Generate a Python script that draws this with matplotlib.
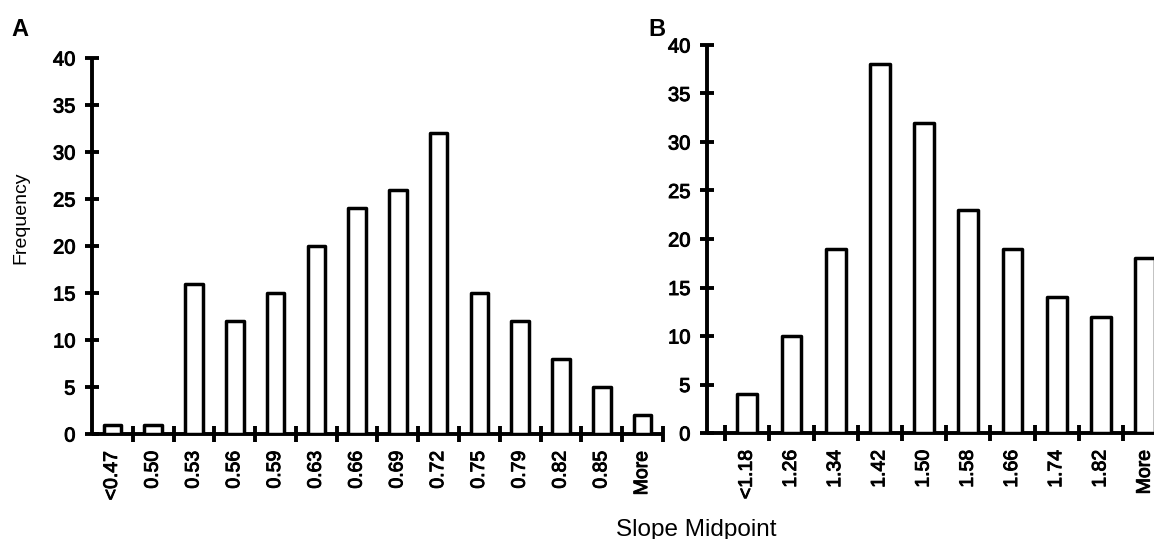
import matplotlib
matplotlib.use("Agg")
import matplotlib.pyplot as plt
import matplotlib.patheffects as pe
import numpy as np
from matplotlib.ticker import FixedLocator, MultipleLocator

plt.rcParams["font.family"] = ["Liberation Sans", "DejaVu Sans"]

# =========================
# Histogram data
# =========================

bins_a = ["<0.47", "0.50", "0.53", "0.56", "0.59", "0.63", "0.66",
          "0.69", "0.72", "0.75", "0.79", "0.82", "0.85", "More"]
freq_a = [1, 1, 16, 12, 15, 20, 24, 26, 32, 15, 12, 8, 5, 2]

bins_b = ["<1.18", "1.26", "1.34", "1.42", "1.50", "1.58", "1.66",
          "1.74", "1.82", "More"]
freq_b = [4, 10, 19, 38, 32, 23, 19, 14, 12, 18]

W, H = 1154, 539

# slightly heavier glyphs for the tick numbers
heavy = [pe.withStroke(linewidth=0.7, foreground="black")]


def px_axes(fig, left, right, top, bottom):
    """axes placed by pixel edges"""
    return fig.add_axes([left / W, 1 - bottom / H,
                         (right - left) / W, (bottom - top) / H])


def draw_hist(ax, labels, counts, width, xlim):
    x = np.arange(len(labels))
    ax.bar(x, counts, width=width, facecolor="white", edgecolor="black",
           linewidth=2.5, joinstyle="round", zorder=3)

    ax.set_xlim(*xlim)
    ax.set_ylim(0, 40)

    for side in ("top", "right"):
        ax.spines[side].set_visible(False)
    for side in ("left", "bottom"):
        ax.spines[side].set_linewidth(2.8)
        ax.spines[side].set_capstyle("butt")

    # category labels in the middle, cross ticks on the bin edges
    ax.set_xticks(x)
    ax.set_xticklabels(labels, rotation=90, va="top", ha="center")
    edges = np.arange(len(labels) + 1) - 0.5
    edges = edges[(edges > xlim[0]) & (edges <= xlim[1])]
    ax.xaxis.set_minor_locator(FixedLocator(edges))
    ax.tick_params(axis="x", which="major", length=0, pad=12, labelsize=14)
    ax.tick_params(axis="x", which="minor", direction="inout", length=11,
                   width=2.8)

    ax.yaxis.set_major_locator(MultipleLocator(5))
    ax.tick_params(axis="y", direction="inout", length=10, width=2.8,
                   pad=7, labelsize=14.5)

    for lbl in ax.get_xticklabels() + ax.get_yticklabels():
        lbl.set_path_effects(heavy)


fig = plt.figure(figsize=(W / 100, H / 100), dpi=100)

ax_a = px_axes(fig, 92, 663, 58, 434)
draw_hist(ax_a, bins_a, freq_a, 0.43, (-0.5, 13.5))

ax_b = px_axes(fig, 707, 1154, 45, 433)
draw_hist(ax_b, bins_b, freq_b, 0.45, (-0.91, 9.2))

fig.text(11 / W, 1 - 18 / H, "A", fontsize=17, fontweight="bold",
         ha="left", va="top")
fig.text(648 / W, 1 - 18 / H, "B", fontsize=17, fontweight="bold",
         ha="left", va="top")

fig.text(12 / W, 1 - 218 / H, "Frequency", fontsize=14, rotation=90,
         ha="left", va="center")
fig.text(696 / W, 1 - 536 / H, "Slope Midpoint", fontsize=17.5,
         ha="center", va="baseline")

plt.savefig("out.png", dpi=100)
plt.close()
